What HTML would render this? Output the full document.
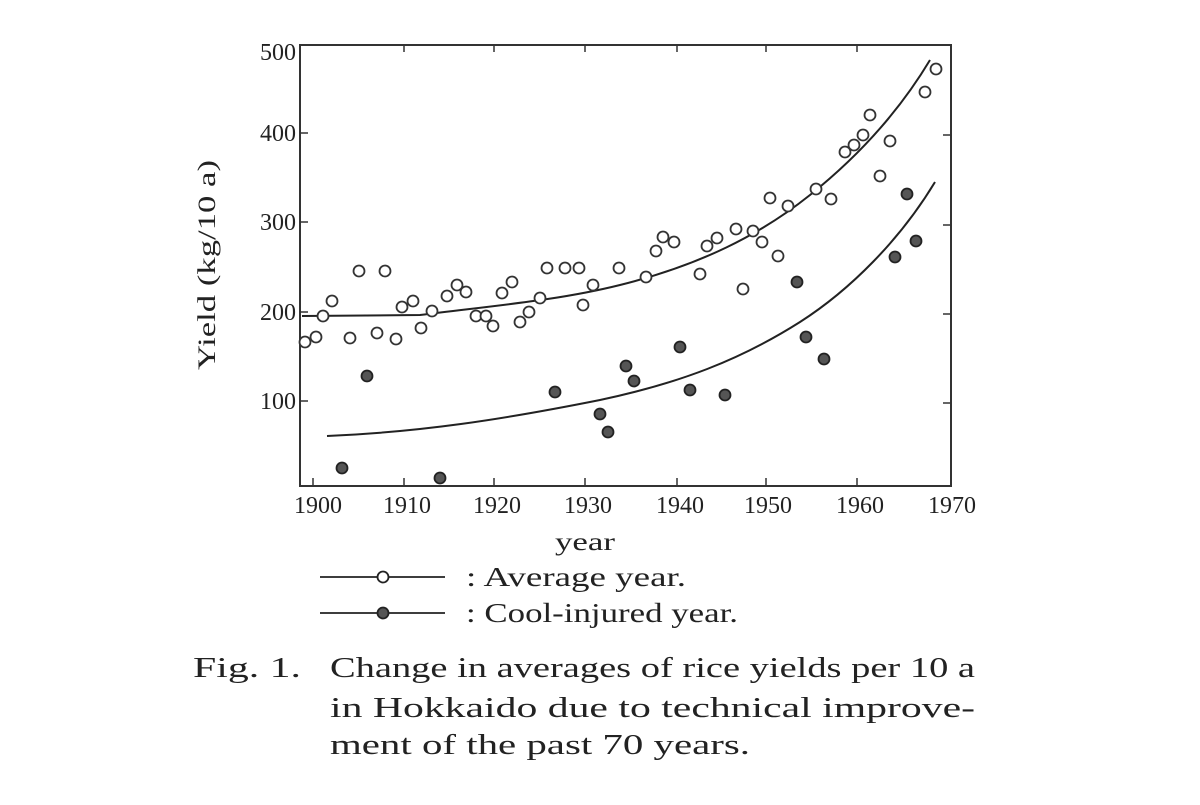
<!DOCTYPE html>
<html><head><meta charset="utf-8"><style>
body{margin:0;background:#fff;}
svg text{font-family:"Liberation Serif",serif;fill:#222;}
</style></head><body>
<svg width="1200" height="800" viewBox="0 0 1200 800" xmlns="http://www.w3.org/2000/svg">
<rect x="300" y="45" width="651" height="441" fill="none" stroke="#333" stroke-width="2"/>
<g stroke="#333" stroke-width="1.5">
<line x1="300" y1="133" x2="308" y2="133"/><line x1="300" y1="222" x2="308" y2="222"/><line x1="300" y1="312" x2="308" y2="312"/><line x1="300" y1="401" x2="308" y2="401"/>
<line x1="943" y1="135" x2="951" y2="135"/><line x1="943" y1="225" x2="951" y2="225"/><line x1="943" y1="314" x2="951" y2="314"/><line x1="943" y1="403" x2="951" y2="403"/>
<line x1="313" y1="478" x2="313" y2="486"/><line x1="404" y1="478" x2="404" y2="486"/><line x1="494" y1="478" x2="494" y2="486"/><line x1="585" y1="478" x2="585" y2="486"/><line x1="677" y1="478" x2="677" y2="486"/><line x1="766" y1="478" x2="766" y2="486"/><line x1="857" y1="478" x2="857" y2="486"/>
<line x1="404" y1="45" x2="404" y2="52"/><line x1="494" y1="45" x2="494" y2="52"/><line x1="585" y1="45" x2="585" y2="52"/><line x1="677" y1="45" x2="677" y2="52"/><line x1="766" y1="45" x2="766" y2="52"/><line x1="857" y1="45" x2="857" y2="52"/>
</g>
<g font-size="24" text-anchor="end">
<text x="296" y="60">500</text><text x="296" y="141">400</text><text x="296" y="230">300</text><text x="296" y="320">200</text><text x="296" y="409">100</text>
</g>
<g font-size="24" text-anchor="middle">
<text x="318" y="513">1900</text><text x="407" y="513">1910</text><text x="497" y="513">1920</text><text x="588" y="513">1930</text><text x="680" y="513">1940</text><text x="768" y="513">1950</text><text x="860" y="513">1960</text><text x="952" y="513">1970</text>
</g>
<text x="555" y="550" font-size="25" textLength="60" lengthAdjust="spacingAndGlyphs">year</text>
<text transform="translate(215,370) rotate(-90)" font-size="25" textLength="210" lengthAdjust="spacingAndGlyphs">Yield (kg/10 a)</text>
<g fill="none" stroke="#222" stroke-width="2">
<path d="M302,316 L420,315 C500,305 560,300 620,285 C700,265 760,235 810,195 C860,155 900,110 930,60"/>
<path d="M327,436 C420,432 500,420 600,400 C680,383 740,360 800,322 C850,290 900,240 935,182"/>
</g>
<g fill="#fff" stroke="#333" stroke-width="1.8">
<circle cx="305" cy="342" r="5.5"/><circle cx="316" cy="337" r="5.5"/><circle cx="323" cy="316" r="5.5"/><circle cx="332" cy="301" r="5.5"/><circle cx="350" cy="338" r="5.5"/><circle cx="359" cy="271" r="5.5"/><circle cx="377" cy="333" r="5.5"/><circle cx="385" cy="271" r="5.5"/><circle cx="396" cy="339" r="5.5"/><circle cx="402" cy="307" r="5.5"/><circle cx="413" cy="301" r="5.5"/><circle cx="421" cy="328" r="5.5"/><circle cx="432" cy="311" r="5.5"/><circle cx="447" cy="296" r="5.5"/><circle cx="457" cy="285" r="5.5"/><circle cx="466" cy="292" r="5.5"/><circle cx="476" cy="316" r="5.5"/><circle cx="486" cy="316" r="5.5"/><circle cx="493" cy="326" r="5.5"/><circle cx="502" cy="293" r="5.5"/><circle cx="512" cy="282" r="5.5"/><circle cx="520" cy="322" r="5.5"/><circle cx="529" cy="312" r="5.5"/><circle cx="540" cy="298" r="5.5"/><circle cx="547" cy="268" r="5.5"/><circle cx="565" cy="268" r="5.5"/><circle cx="579" cy="268" r="5.5"/><circle cx="583" cy="305" r="5.5"/><circle cx="593" cy="285" r="5.5"/><circle cx="619" cy="268" r="5.5"/><circle cx="646" cy="277" r="5.5"/><circle cx="656" cy="251" r="5.5"/><circle cx="663" cy="237" r="5.5"/><circle cx="674" cy="242" r="5.5"/><circle cx="700" cy="274" r="5.5"/><circle cx="707" cy="246" r="5.5"/><circle cx="717" cy="238" r="5.5"/><circle cx="736" cy="229" r="5.5"/><circle cx="743" cy="289" r="5.5"/><circle cx="753" cy="231" r="5.5"/><circle cx="762" cy="242" r="5.5"/><circle cx="770" cy="198" r="5.5"/><circle cx="778" cy="256" r="5.5"/><circle cx="788" cy="206" r="5.5"/><circle cx="816" cy="189" r="5.5"/><circle cx="831" cy="199" r="5.5"/><circle cx="845" cy="152" r="5.5"/><circle cx="854" cy="145" r="5.5"/><circle cx="863" cy="135" r="5.5"/><circle cx="870" cy="115" r="5.5"/><circle cx="880" cy="176" r="5.5"/><circle cx="890" cy="141" r="5.5"/><circle cx="925" cy="92" r="5.5"/><circle cx="936" cy="69" r="5.5"/>
</g>
<g fill="#555" stroke="#222" stroke-width="1.8">
<circle cx="342" cy="468" r="5.5"/><circle cx="367" cy="376" r="5.5"/><circle cx="440" cy="478" r="5.5"/><circle cx="555" cy="392" r="5.5"/><circle cx="600" cy="414" r="5.5"/><circle cx="608" cy="432" r="5.5"/><circle cx="626" cy="366" r="5.5"/><circle cx="634" cy="381" r="5.5"/><circle cx="680" cy="347" r="5.5"/><circle cx="690" cy="390" r="5.5"/><circle cx="725" cy="395" r="5.5"/><circle cx="797" cy="282" r="5.5"/><circle cx="806" cy="337" r="5.5"/><circle cx="824" cy="359" r="5.5"/><circle cx="895" cy="257" r="5.5"/><circle cx="907" cy="194" r="5.5"/><circle cx="916" cy="241" r="5.5"/>
</g>
<g stroke="#222" stroke-width="1.8">
<line x1="320" y1="577" x2="445" y2="577"/><circle cx="383" cy="577" r="5.5" fill="#fff"/>
<line x1="320" y1="613" x2="445" y2="613"/><circle cx="383" cy="613" r="5.5" fill="#555"/>
</g>
<g font-size="27">
<text x="466" y="586" textLength="220" lengthAdjust="spacingAndGlyphs">: Average year.</text>
<text x="466" y="622" textLength="272" lengthAdjust="spacingAndGlyphs">: Cool-injured year.</text>
</g>
<g font-size="29">
<text x="193" y="677" textLength="108" lengthAdjust="spacingAndGlyphs">Fig. 1.</text>
<text x="330" y="677" textLength="645" lengthAdjust="spacingAndGlyphs">Change in averages of rice yields per 10 a</text>
<text x="330" y="717" textLength="645" lengthAdjust="spacingAndGlyphs">in Hokkaido due to technical improve-</text>
<text x="330" y="754" textLength="420" lengthAdjust="spacingAndGlyphs">ment of the past 70 years.</text>
</g>
</svg>
</body></html>
